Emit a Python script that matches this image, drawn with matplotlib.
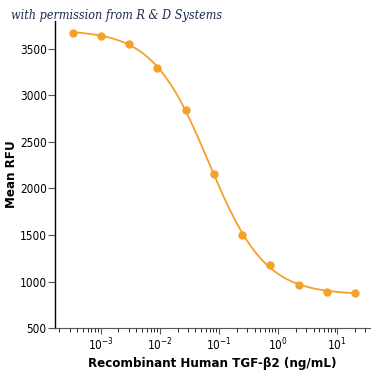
import numpy as np
import matplotlib
matplotlib.use('Agg')
from matplotlib import pyplot as plt
from matplotlib import font_manager

narrow = 'Liberation Sans Narrow'
names = set(f.name for f in font_manager.fontManager.ttflist)
if narrow not in names:
    narrow = 'DejaVu Sans'
plt.rcParams['font.family'] = [narrow, 'DejaVu Sans']
plt.rcParams['font.stretch'] = 'condensed'
plt.rcParams['mathtext.fontset'] = 'custom'
plt.rcParams['mathtext.rm'] = narrow + ':stretch=condensed'

# concentration (ng/mL) and mean RFU
conc = [0.000339, 0.001016, 0.00305, 0.00914, 0.0274, 0.0823, 0.247, 0.741, 2.22, 6.67, 20.0]
rfu = [3670, 3640, 3550, 3290, 2840, 2150, 1500, 1180, 960, 890, 880]
xticks = [1e-3, 1e-2, 1e-1, 1e0, 1e1]
xticklabels = ['$\\mathrm{10^{-3}}$', '$\\mathrm{10^{-2}}$', '$\\mathrm{10^{-1}}$',
               '$\\mathrm{10^{0}}$', '$\\mathrm{10^{1}}$']
yticks = [500, 1000, 1500, 2000, 2500, 3000, 3500]

orange = '#f5a02a'


def logistic(p, lx):
    bottom, top, lc50, hill = p
    return bottom + (top - bottom) / (1 + 10 ** (hill * (lx - lc50)))


# four-parameter logistic fit (Gauss-Newton) to the points
lx = np.log10(conc)
y = np.array(rfu, dtype=float)
p = np.array([min(rfu), max(rfu), -1.2, 1.0])
for it in range(200):
    r = y - logistic(p, lx)
    J = np.zeros((len(lx), 4))
    for k in range(4):
        dp = np.zeros(4)
        dp[k] = 1e-6 * max(1.0, abs(p[k]))
        J[:, k] = (logistic(p + dp, lx) - logistic(p, lx)) / dp[k]
    step = np.linalg.lstsq(J, r, rcond=None)[0]
    p = p + 0.5 * step

xs = np.logspace(lx[0], lx[-1], 300)

fig = plt.figure(figsize=(3.75, 3.75), dpi=100)
ax = fig.add_axes([0.147, 0.125, 0.84, 0.82])
ax.plot(xs, logistic(p, np.log10(xs)), color=orange, lw=1.3)
ax.plot(conc, rfu, 'o', color=orange, ms=5, mec=orange)

ax.set_xscale('log')
ax.set_xlim(1.7e-4, 36)
ax.set_ylim(500, 3800)
ax.set_xticks(xticks)
ax.set_xticklabels(xticklabels)
ax.set_yticks(yticks)
ax.spines['top'].set_visible(False)
ax.spines['right'].set_visible(False)
ax.spines['left'].set_linewidth(1.0)
ax.spines['bottom'].set_color('#555555')
ax.tick_params(axis='both', labelsize=8.5, direction='out', color='#555555')
ax.tick_params(axis='x', which='major', length=4, pad=2)
ax.tick_params(axis='x', which='minor', length=3)
ax.tick_params(axis='y', length=5, pad=1)

ax.set_ylabel('Mean RFU', fontsize=9.5, fontweight='bold', labelpad=1)
ax.set_xlabel('Recombinant Human TGF-β2 (ng/mL)', fontsize=9.5, fontweight='bold', labelpad=3)

fig.text(0.03, 0.95, 'with permission from R & D Systems', fontsize=9,
         family='DejaVu Serif', style='italic', color='#1a2a4a')

fig.savefig('out.png', dpi=100)
